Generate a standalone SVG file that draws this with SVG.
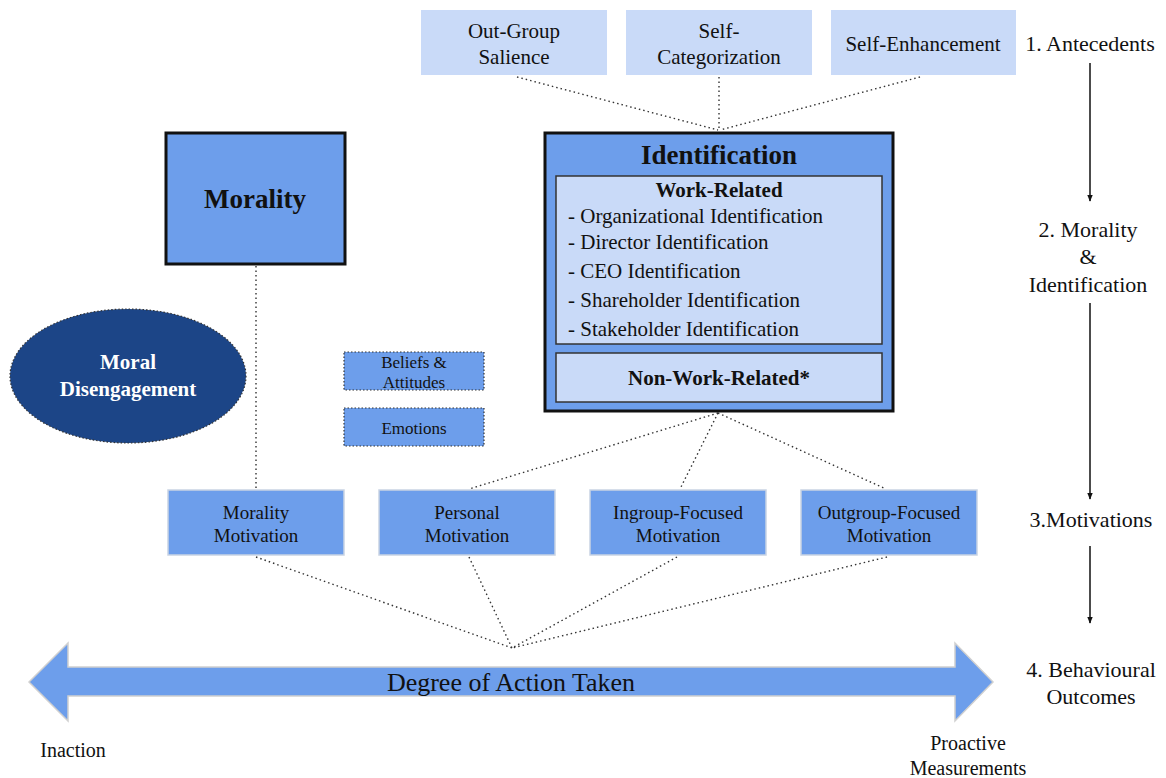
<svg xmlns="http://www.w3.org/2000/svg" width="1166" height="778" viewBox="0 0 1166 778">
<defs>
<style>
text{font-family:"Liberation Serif","Times New Roman",serif;fill:#111;text-anchor:middle}
.light{fill:#c9daf8}
.mid{fill:#6d9eeb}
.thick{fill:#6d9eeb;stroke:#111;stroke-width:3}
.inner{fill:#c9daf8;stroke:#333;stroke-width:1.5}
.mot{fill:#6d9eeb;stroke:#c9d3e3;stroke-width:1.5}
.dotbox{fill:#6d9eeb;stroke:#333;stroke-width:1.2;stroke-dasharray:1.5 2}
.dot{stroke:#333;stroke-width:1.4;stroke-dasharray:1.5 3;fill:none}
.f21{font-size:21px}
.f19{font-size:19px}
.b{font-weight:bold}
.lab{font-size:22px}
.axis{stroke:#111;stroke-width:1.5;fill:none}
</style>
<marker id="ah" viewBox="0 0 10 10" refX="9" refY="5" markerWidth="7" markerHeight="7" orient="auto" markerUnits="userSpaceOnUse">
<path d="M0,1 L10,5 L0,9 z" fill="#111"/>
</marker>
</defs>
<rect width="1166" height="778" fill="#fff"/>

<g id="connectors">
<line class="dot" x1="517" y1="77" x2="718" y2="130"/>
<line class="dot" x1="719" y1="77" x2="719" y2="130"/>
<line class="dot" x1="920" y1="77" x2="720" y2="130"/>
<line class="dot" x1="256" y1="266" x2="256" y2="489"/>
<line class="dot" x1="718" y1="413" x2="469" y2="489"/>
<line class="dot" x1="718" y1="413" x2="680" y2="489"/>
<line class="dot" x1="718" y1="413" x2="886" y2="489"/>
<line class="dot" x1="256" y1="557" x2="512" y2="648"/>
<line class="dot" x1="469" y1="557" x2="512" y2="648"/>
<line class="dot" x1="677" y1="557" x2="512" y2="648"/>
<line class="dot" x1="887" y1="557" x2="512" y2="648"/>
<line class="axis" x1="1090" y1="63" x2="1090" y2="201" marker-end="url(#ah)"/>
<line class="axis" x1="1090" y1="303" x2="1090" y2="499" marker-end="url(#ah)"/>
<line class="axis" x1="1090" y1="546" x2="1090" y2="623" marker-end="url(#ah)"/>
</g>

<g id="outgroup-salience">
<rect class="light" x="421" y="10" width="186" height="65"/>
<text class="f21" x="514" y="38">Out-Group</text>
<text class="f21" x="514" y="64">Salience</text>
</g>
<g id="self-categorization">
<rect class="light" x="626" y="10" width="186" height="65"/>
<text class="f21" x="719" y="38">Self-</text>
<text class="f21" x="719" y="64">Categorization</text>
</g>
<g id="self-enhancement">
<rect class="light" x="831" y="10" width="185" height="65"/>
<text class="f21" x="923" y="51">Self-Enhancement</text>
</g>

<g id="morality">
<rect class="thick" x="166" y="133" width="179" height="131"/>
<text class="b" x="255" y="208" font-size="27">Morality</text>
</g>

<g id="identification">
<rect class="thick" x="545" y="133" width="348" height="278"/>
<text class="b" x="719" y="164" font-size="27">Identification</text>
<rect class="inner" x="556" y="176" width="326" height="168"/>
<text class="f21 b" x="719" y="197">Work-Related</text>
<g class="f21" style="text-anchor:start">
<text x="568" y="223" style="text-anchor:start">- Organizational Identification</text>
<text x="568" y="249" style="text-anchor:start">- Director Identification</text>
<text x="568" y="278" style="text-anchor:start">- CEO Identification</text>
<text x="568" y="307" style="text-anchor:start">- Shareholder Identification</text>
<text x="568" y="336" style="text-anchor:start">- Stakeholder Identification</text>
</g>
<rect class="inner" x="556" y="353" width="326" height="49"/>
<text class="f21 b" x="719" y="385">Non-Work-Related*</text>
</g>

<g id="moral-disengagement">
<ellipse cx="128" cy="376" rx="118" ry="67" fill="#1c4587" stroke="#333" stroke-width="1.2" stroke-dasharray="1.5 2"/>
<text class="b" x="128" y="369" font-size="21" style="fill:#fff">Moral</text>
<text class="b" x="128" y="396" font-size="21" style="fill:#fff">Disengagement</text>
</g>

<g id="beliefs-attitudes">
<rect class="dotbox" x="344" y="352" width="140" height="38"/>
<text x="414" y="368" font-size="17">Beliefs &amp;</text>
<text x="414" y="388" font-size="17">Attitudes</text>
</g>
<g id="emotions">
<rect class="dotbox" x="344" y="408" width="140" height="38"/>
<text x="414" y="434" font-size="17">Emotions</text>
</g>

<g id="morality-motivation">
<rect class="mot" x="168" y="490" width="176" height="65"/>
<text class="f19" x="256" y="519">Morality</text>
<text class="f19" x="256" y="542">Motivation</text>
</g>
<g id="personal-motivation">
<rect class="mot" x="379" y="490" width="176" height="65"/>
<text class="f19" x="467" y="519">Personal</text>
<text class="f19" x="467" y="542">Motivation</text>
</g>
<g id="ingroup-motivation">
<rect class="mot" x="590" y="490" width="176" height="65"/>
<text class="f19" x="678" y="519">Ingroup-Focused</text>
<text class="f19" x="678" y="542">Motivation</text>
</g>
<g id="outgroup-motivation">
<rect class="mot" x="801" y="490" width="176" height="65"/>
<text class="f19" x="889" y="519">Outgroup-Focused</text>
<text class="f19" x="889" y="542">Motivation</text>
</g>

<g id="degree-arrow">
<path d="M29,682 L68,643 L68,667 L955,667 L955,643 L993,682 L955,721 L955,696 L68,696 L68,721 Z" fill="#6d9eeb" stroke="#d0d0d0" stroke-width="1.5"/>
<text x="511" y="691" font-size="26">Degree of Action Taken</text>
</g>
<g id="inaction">
<text x="73" y="757" font-size="20">Inaction</text>
</g>
<g id="proactive">
<text x="968" y="750" font-size="20">Proactive</text>
<text x="968" y="775" font-size="20">Measurements</text>
</g>

<g id="stage-labels">
<text class="lab" x="1090" y="51">1. Antecedents</text>
<text class="lab" x="1088" y="237">2. Morality</text>
<text class="lab" x="1088" y="264">&amp;</text>
<text class="lab" x="1088" y="292">Identification</text>
<text class="lab" x="1091" y="527">3.Motivations</text>
<text class="lab" x="1091" y="677">4. Behavioural</text>
<text class="lab" x="1091" y="704">Outcomes</text>
</g>
</svg>
